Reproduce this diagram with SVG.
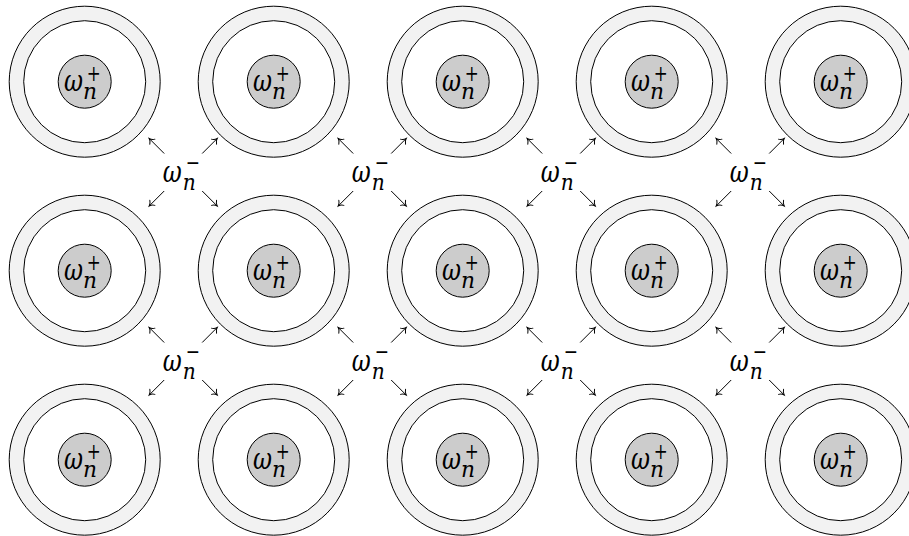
<svg xmlns="http://www.w3.org/2000/svg" width="909" height="536" viewBox="0 0 909 536">
<style>
.outer{fill:#f2f2f2;stroke:#000;stroke-width:1}
.inner{fill:#fff;stroke:#000;stroke-width:1}
.core{fill:#cccccc;stroke:#000;stroke-width:1}
.w{font-family:"DejaVu Serif",serif;font-style:italic;font-size:30px;fill:#000}
.s{font-family:"DejaVu Serif",serif;font-size:22px;fill:#000}
.n{font-family:"DejaVu Serif",serif;font-style:italic;font-size:22px;fill:#000}
.arr{stroke:#000;stroke-width:1;fill:none;marker-end:url(#to)}
</style>
<defs>
<marker id="to" markerUnits="userSpaceOnUse" viewBox="-6 -5 8 10" markerWidth="8" markerHeight="10" refX="0" refY="0" orient="auto">
<path d="M -4.5,-3.6 C -3.3,-1.6 -1.3,-0.4 0,0 C -1.3,0.4 -3.3,1.6 -4.5,3.6" fill="none" stroke="#000" stroke-width="1" stroke-linecap="round"/>
</marker>
<g id="plusLabel">
<text class="w" x="-20.6" y="9.3" textLength="19" lengthAdjust="spacingAndGlyphs">ω</text>
<text class="s" x="2" y="-0.5" textLength="14" lengthAdjust="spacingAndGlyphs">+</text>
<text class="n" x="-1.7" y="16.8" textLength="14" lengthAdjust="spacingAndGlyphs">n</text>
</g>
<g id="ringShape">
<circle class="outer" r="75.5"/>
<circle class="inner" r="61"/>
<circle class="core" r="26.5"/>
<use href="#plusLabel"/>
</g>
<g id="minusLabel">
<text class="w" x="-20.5" y="9.7" textLength="19" lengthAdjust="spacingAndGlyphs">ω</text>
<text class="s" x="2.5" y="-2.2" textLength="14.3" lengthAdjust="spacingAndGlyphs">−</text>
<text class="n" x="-0.5" y="18" textLength="13" lengthAdjust="spacingAndGlyphs">n</text>
</g>
<g id="arrows4">
<line class="arr" x1="-19" y1="-18.5" x2="-34" y2="-33.5"/>
<line class="arr" x1="19" y1="-18.5" x2="34" y2="-33.5"/>
<line class="arr" x1="-19" y1="19" x2="-34" y2="34"/>
<line class="arr" x1="19" y1="19" x2="34" y2="34"/>
</g>
</defs>

<g id="node-r1c1" transform="translate(84.7,81.7)"><use href="#ringShape"/></g>
<g id="node-r1c2" transform="translate(273.7,81.7)"><use href="#ringShape"/></g>
<g id="node-r1c3" transform="translate(462.7,81.7)"><use href="#ringShape"/></g>
<g id="node-r1c4" transform="translate(651.7,81.7)"><use href="#ringShape"/></g>
<g id="node-r1c5" transform="translate(840.7,81.7)"><use href="#ringShape"/></g>

<g id="node-r2c1" transform="translate(84.7,270.7)"><use href="#ringShape"/></g>
<g id="node-r2c2" transform="translate(273.7,270.7)"><use href="#ringShape"/></g>
<g id="node-r2c3" transform="translate(462.7,270.7)"><use href="#ringShape"/></g>
<g id="node-r2c4" transform="translate(651.7,270.7)"><use href="#ringShape"/></g>
<g id="node-r2c5" transform="translate(840.7,270.7)"><use href="#ringShape"/></g>

<g id="node-r3c1" transform="translate(84.7,459.7)"><use href="#ringShape"/></g>
<g id="node-r3c2" transform="translate(273.7,459.7)"><use href="#ringShape"/></g>
<g id="node-r3c3" transform="translate(462.7,459.7)"><use href="#ringShape"/></g>
<g id="node-r3c4" transform="translate(651.7,459.7)"><use href="#ringShape"/></g>
<g id="node-r3c5" transform="translate(840.7,459.7)"><use href="#ringShape"/></g>

<g id="label-a1" transform="translate(183.2,172)"><use href="#minusLabel"/></g>
<g id="label-a2" transform="translate(372.2,172)"><use href="#minusLabel"/></g>
<g id="label-a3" transform="translate(561.2,172)"><use href="#minusLabel"/></g>
<g id="label-a4" transform="translate(750.2,172)"><use href="#minusLabel"/></g>
<g id="label-b1" transform="translate(183.2,361)"><use href="#minusLabel"/></g>
<g id="label-b2" transform="translate(372.2,361)"><use href="#minusLabel"/></g>
<g id="label-b3" transform="translate(561.2,361)"><use href="#minusLabel"/></g>
<g id="label-b4" transform="translate(750.2,361)"><use href="#minusLabel"/></g>

<g id="connectors">
<use href="#arrows4" transform="translate(183.2,172)"/>
<use href="#arrows4" transform="translate(372.2,172)"/>
<use href="#arrows4" transform="translate(561.2,172)"/>
<use href="#arrows4" transform="translate(750.2,172)"/>
<use href="#arrows4" transform="translate(183.2,361)"/>
<use href="#arrows4" transform="translate(372.2,361)"/>
<use href="#arrows4" transform="translate(561.2,361)"/>
<use href="#arrows4" transform="translate(750.2,361)"/>
</g>
</svg>
